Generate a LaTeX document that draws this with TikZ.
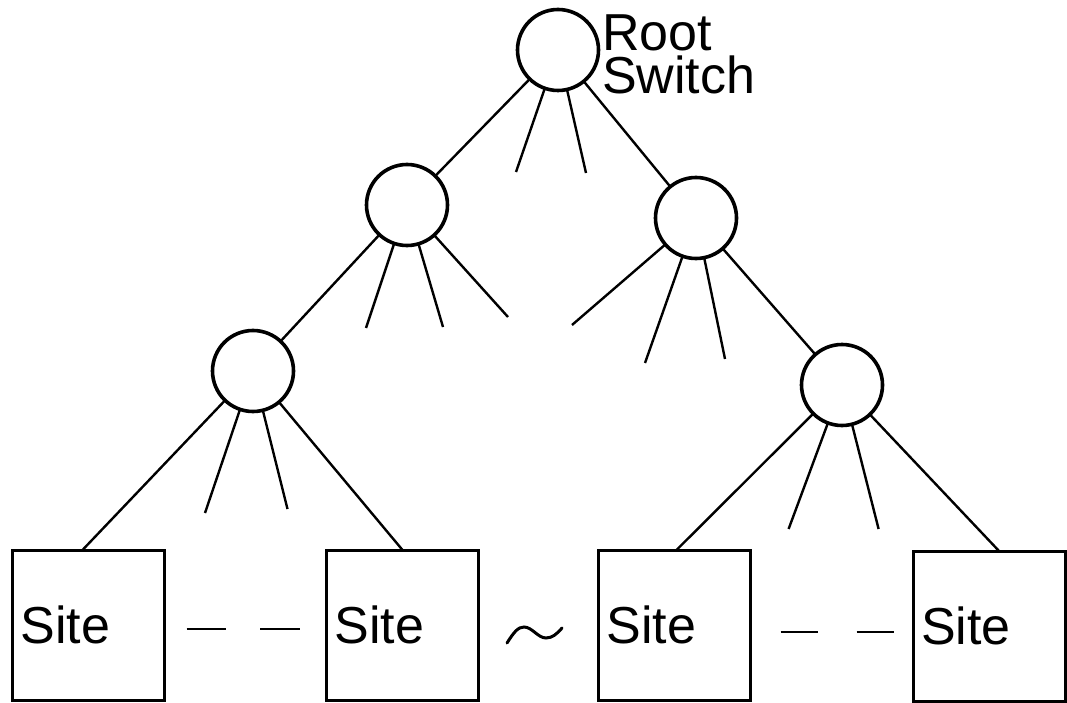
\documentclass[tikz,border=0pt]{standalone}
\usepackage{fontspec}
\setmainfont{Liberation Sans}
\begin{document}
\begin{tikzpicture}[x=1pt,y=-1pt,
  sw/.style={circle,draw,line width=3.6pt,minimum size=81pt,inner sep=0pt,outer sep=0pt},
  site/.style={draw,line width=3pt,minimum width=152pt,minimum height=150pt,
    text width=136pt,inner xsep=8pt,inner ysep=0pt,align=left,outer sep=0pt,
    font=\fontsize{52}{52}\selectfont},
  lbl/.style={inner sep=0pt,align=left,font=\fontsize{52}{43}\selectfont},
  link/.style={line width=2.4pt},
  stub/.style={line width=2.4pt},
  gap/.style={line width=2.8pt}]
\useasboundingbox (0,0) rectangle (1067,703);

% switches
\node[sw] (root) at (558,50) {};
\node[sw] (l2a) at (407,205) {};
\node[sw] (l2b) at (696,218) {};
\node[sw] (l3a) at (253,371) {};
\node[sw] (l3b) at (842,385) {};

\node[lbl,anchor=north west] (rootlbl) at (602,15) {Root\\Switch};

% sites
\node[site] (b1) at (88.5,625) {Site};
\node[site] (b2) at (402.5,625) {Site};
\node[site] (b3) at (674.5,625) {Site};
\node[site] (b4) at (989,626) {Site};

% tree links
\draw[link] (root) -- (l2a);
\draw[link] (root) -- (l2b);
\draw[link] (l2a) -- (l3a);
\draw[link] (l2b) -- (l3b);
\draw[link] (l3a) -- ([xshift=-6pt]b1.north);
\draw[link] (l3a) -- (b2.north);
\draw[link] (l3b) -- ([xshift=2pt]b3.north);
\draw[link] (l3b) -- ([xshift=10pt]b4.north);

% open ports
\coordinate (r1) at (516,172);
\coordinate (r2) at (586,173);
\coordinate (a1) at (366,328);
\coordinate (a2) at (443,327);
\coordinate (a3) at (508,317);
\coordinate (c1) at (572,325);
\coordinate (c2) at (645,363);
\coordinate (c3) at (725,359);
\coordinate (d1) at (205,513);
\coordinate (d2) at (287.5,509);
\coordinate (e1) at (788.6,529);
\coordinate (e2) at (878.6,529);
\foreach \s in {r1,r2} \draw[stub] (root) -- (\s);
\foreach \s in {a1,a2,a3} \draw[stub] (l2a) -- (\s);
\foreach \s in {c1,c2,c3} \draw[stub] (l2b) -- (\s);
\foreach \s in {d1,d2} \draw[stub] (l3a) -- (\s);
\foreach \s in {e1,e2} \draw[stub] (l3b) -- (\s);

% elided sites
\draw[gap,shorten <=22pt,shorten >=27pt,dash pattern=on 39.5pt off 34pt]
  ([yshift=-4pt]b1.east) -- ([yshift=-4pt]b2.west);
\draw[gap,shorten <=30pt,shorten >=19pt,dash pattern=on 37pt off 39pt]
  ([yshift=-7pt]b3.east) -- ([yshift=-6pt]b4.west);
\draw[line width=3pt,line cap=round]
  (507,643) .. controls (514,632) and (518,627) .. (524,627)
  .. controls (532,627) and (538,638) .. (546,638)
  .. controls (552,638) and (557,634) .. (562,628);
\end{tikzpicture}
\end{document}
